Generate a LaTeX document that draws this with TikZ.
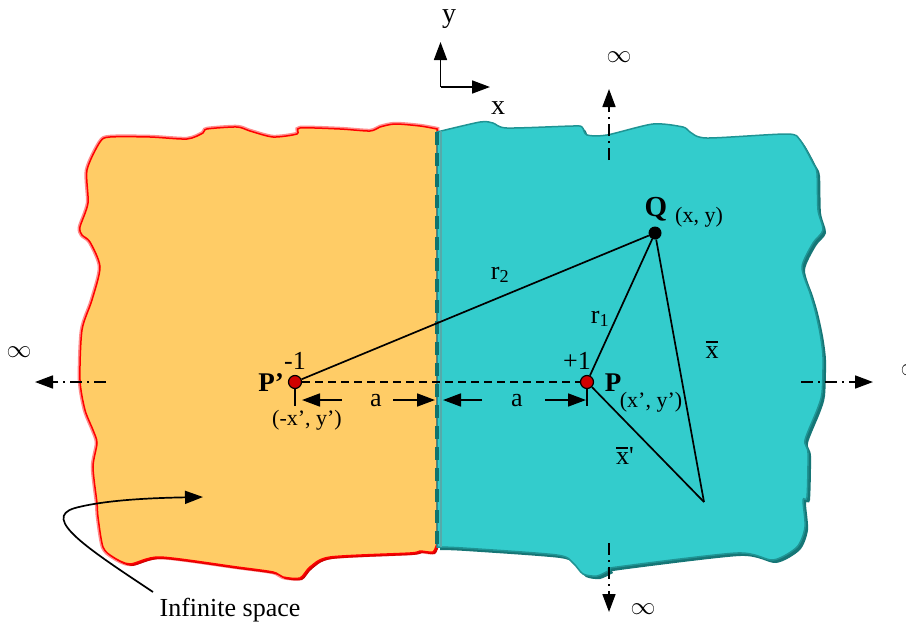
\documentclass[tikz,border=0pt]{standalone}
\usepackage{fontspec}
\setmainfont{Liberation Serif}
\usetikzlibrary{arrows.meta}
\newcommand\myfs[1]{\fontsize{#1}{#1}\selectfont}
\newcommand\barx{\leavevmode\rlap{\rule[15.5pt]{12pt}{1.6pt}}x}
\definecolor{orangefill}{HTML}{FFCC66}
\definecolor{tealfill}{HTML}{33CCCC}
\definecolor{tealedge}{HTML}{1F9494}
\definecolor{tealshadow}{HTML}{167676}
\definecolor{divide}{HTML}{0F746F}
\definecolor{ptred}{HTML}{D00000}
\tikzset{
  big/.style={font=\myfs{26}, inner sep=0pt},
  small/.style={font=\myfs{22}, inner sep=0pt},
  bold/.style={font=\myfs{27}\bfseries, inner sep=0pt},
  arr/.style={-{Triangle[length=18pt,width=13pt]}, line width=1.7pt},
  dimarr/.style={-{Triangle[length=18pt,width=13pt]}, line width=1.7pt},
  dashdot/.style={line width=1.7pt, dash pattern=on 12pt off 5pt on 2pt off 5pt},
  thin line/.style={line width=1.7pt},
  redpt/.style={circle, fill=ptred, draw=black, line width=1.2pt, minimum size=13pt, inner sep=0pt},
  blackpt/.style={circle, fill=black, minimum size=13pt, inner sep=0pt},
}
\begin{document}
\begin{tikzpicture}[x=1pt,y=-1pt]
\useasboundingbox (0,0) rectangle (906,630);
% ---------- orange half ----------
\def\orangepath{plot[smooth,tension=0.45] coordinates {(437,129) (420,126) (395,124) (380,127) (370,131) (340,129) (300,128) (297,134) (273,137) (250,131) (237,127) (207,129) (203,133) (187,139) (150,137) (110,137) (100,142) (87,170) (88,203) (80,227) (82,235) (90,242) (100,267) (92,300) (82,330) (80,380) (85,410) (93,430) (97,443) (93,467) (97,503) (98,517) (103,547) (113,557) (130,564) (160,557) (237,567) (273,572) (283,577) (300,578) (310,567) (330,557) (410,553) (420,551) (433,552) (437,543)} -- cycle}
\fill[red!75!black, shift={(2,2)}] \orangepath;
\draw[red, draw opacity=0.45, line width=4.5pt] \orangepath;
\fill[orangefill] \orangepath;
\draw[red, line width=1.5pt] \orangepath;
% ---------- teal half ----------
\def\tealpath{plot[smooth,tension=0.45] coordinates {(437,132) (480,122) (493,123) (507,128) (573,126) (582,127) (587,135) (607,135) (653,124) (683,127) (690,132) (707,138) (787,134) (800,140) (813,163) (817,173) (818,210) (823,230) (813,243) (802,267) (810,293) (815,310) (820,333) (823,357) (822,393) (817,410) (805,440) (808,453) (807,497) (803,500) (805,527) (797,547) (773,560) (737,553) (617,567) (610,570) (597,576) (583,574) (573,563) (557,555) (463,548) (437,547)} -- cycle}
\fill[tealshadow, shift={(3,3)}] \tealpath;
\draw[tealedge, line width=1.5pt, fill=tealfill] \tealpath;
% dividing line
\draw[color=gray!45!tealfill, line width=2pt] (440.5,131) -- (440.5,547);
\draw[divide, line width=3.5pt, dash pattern=on 13pt off 8pt] (437,132) -- (437,547);
% ---------- axes ----------
\coordinate (O) at (440.5,87);
\coordinate (yt) at (440.5,42);
\coordinate (xt) at (490,87);
\draw[arr] (O) -- (yt);
\draw[arr] (O) -- (xt);
\node[big, font=\myfs{28}] (ylab) at (449,19) {y};
\node[big, font=\myfs{28}] (xlab) at (498,108) {x};
% ---------- infinity arrows ----------
\coordinate (tops) at (609,160);
\coordinate (topt) at (609,89);
\draw[dashdot] (tops) -- (609,100);
\draw[arr] (609,105) -- (topt);
\node[big] (inftop) at (619,57) {$\infty$};
\coordinate (bots) at (609,543);
\coordinate (bott) at (609,612);
\draw[dashdot] (bots) -- (609,598);
\draw[arr] (609,594) -- (bott);
\node[big] (infbot) at (643,609) {$\infty$};
\coordinate (lefts) at (106,382);
\coordinate (leftt) at (35,382);
\draw[dashdot] (lefts) -- (52,382);
\draw[arr] (58,382) -- (leftt);
\node[big] (infleft) at (19,352) {$\infty$};
\coordinate (rights) at (801,382);
\coordinate (rightt) at (873,382);
\draw[dashdot] (rights) -- (856,382);
\draw[arr] (850,382) -- (rightt);
\node[big] (infright) at (913,370) {$\infty$};
% ---------- points ----------
\node[redpt] (Pp) at (295,382) {};
\node[redpt] (P) at (587,382) {};
\node[blackpt] (Q) at (655,233) {};
\coordinate (A) at (704,502);
\draw[thin line, dash pattern=on 8pt off 5pt] (Pp) -- (P);
\draw[thin line] (Pp) -- (Q);
\draw[thin line] (P) -- (Q);
\draw[thin line] (Q) -- (A);
\draw[thin line] (P) -- (A);
% ticks and dimensions
\coordinate (Ppt) at (295,406);
\coordinate (Pt) at (587,406);
\draw[thin line] (Pp.south) -- (Ppt);
\draw[thin line] (P.south) -- (Pt);
\node[big] (a1) at (376,401) {a};
\node[big] (a2) at (517,401) {a};
\coordinate (d1s) at (342,400);
\coordinate (d1t) at (302,400);
\coordinate (d2s) at (393,400);
\coordinate (d2t) at (435,400);
\coordinate (d3s) at (482,400);
\coordinate (d3t) at (443,400);
\coordinate (d4s) at (545,400);
\coordinate (d4t) at (586,400);
\draw[dimarr] (d1s) -- (d1t);
\draw[dimarr] (d2s) -- (d2t);
\draw[dimarr] (d3s) -- (d3t);
\draw[dimarr] (d4s) -- (d4t);
% ---------- labels ----------
\node[big] (m1) at (295,361) {-1};
\node[big] (p1) at (577,361) {+1};
\node[bold] (Pplab) at (271,383) {P’};
\node[small] (Ppc) at (307,420) {(-x’, y’)};
\node[bold] (Plab) at (613,383) {P};
\node[small] (Pc) at (651,402) {(x’, y’)};
\node[bold, font=\myfs{29}\bfseries] (Qlab) at (656,209) {Q};
\node[small] (Qc) at (699,217) {(x, y)};
\node[big] (r2) at (500,275) {r\textsubscript{2}};
\node[big] (r1) at (600,319) {r\textsubscript{1}};
\node[big] (xb) at (712,350) {\barx};
\node[big] (xbp) at (625,456) {\barx\textquotesingle};
% ---------- infinite space ----------
\node[big] (inf) at (230,610) {Infinite space};
\coordinate (cs) at (153,592);
\coordinate (ct) at (203,497);
\draw[arr] (cs) .. controls (90,550) and (40,518) .. (75,508) .. controls (105,500) and (150,498) .. (ct);
\end{tikzpicture}
\end{document}
